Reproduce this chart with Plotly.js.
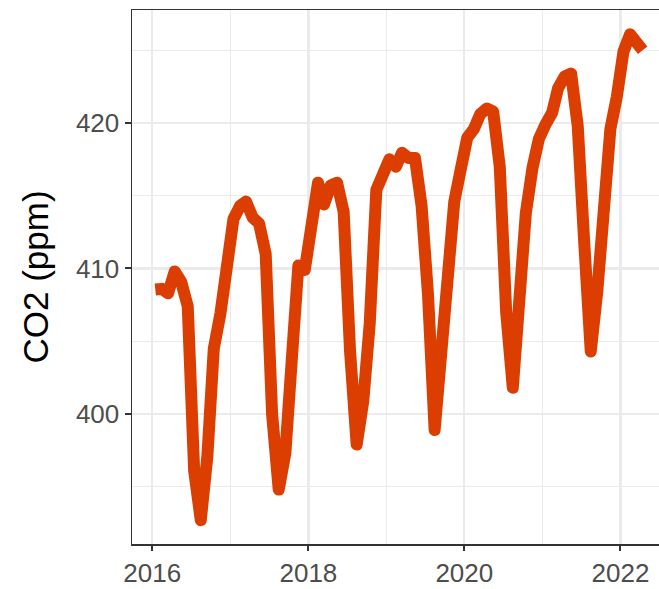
<!DOCTYPE html>
<html>
<head>
<meta charset="utf-8">
<script src="https://cdn.plot.ly/plotly-3.0.1.min.js"></script>
<style>
  html, body { margin: 0; padding: 0; overflow: hidden; background: #fff; }
  #chart { width: 680px; height: 589px; }
  .scatterlayer path.js-line { stroke-linejoin: round !important; }
</style>
</head>
<body>
<div id="chart"></div>
<script>
// Monthly dates (mid-month), Jan 2016 .. Apr 2022
const dates = [
  "2016-01-15","2016-02-15","2016-03-15","2016-04-15","2016-05-15","2016-06-15","2016-07-15","2016-08-15","2016-09-15","2016-10-15","2016-11-15","2016-12-15",
  "2017-01-15","2017-02-15","2017-03-15","2017-04-15","2017-05-15","2017-06-15","2017-07-15","2017-08-15","2017-09-15","2017-10-15","2017-11-15","2017-12-15",
  "2018-01-15","2018-02-15","2018-03-15","2018-04-15","2018-05-15","2018-06-15","2018-07-15","2018-08-15","2018-09-15","2018-10-15","2018-11-15","2018-12-15",
  "2019-01-15","2019-02-15","2019-03-15","2019-04-15","2019-05-15","2019-06-15","2019-07-15","2019-08-15","2019-09-15","2019-10-15","2019-11-15","2019-12-15",
  "2020-01-15","2020-02-15","2020-03-15","2020-04-15","2020-05-15","2020-06-15","2020-07-15","2020-08-15","2020-09-15","2020-10-15","2020-11-15","2020-12-15",
  "2021-01-15","2021-02-15","2021-03-15","2021-04-15","2021-05-15","2021-06-15","2021-07-15","2021-08-15","2021-09-15","2021-10-15","2021-11-15","2021-12-15",
  "2022-01-15","2022-02-15","2022-03-15","2022-04-15"
];

// CO2 concentration (ppm)
const co2 = [
  408.55, 408.6, 408.3, 409.8, 409.1, 407.4, 396.1, 392.7, 397.1, 404.5, 406.9, 410.6,
  413.4, 414.3, 414.6, 413.5, 413.1, 411.0, 400.0, 394.8, 397.3, 403.7, 410.2, 409.9,
  412.6, 415.9, 414.4, 415.7, 415.9, 413.9, 404.3, 397.9, 400.9, 406.2, 415.4, 416.6,
  417.5, 417.0, 417.95, 417.6, 417.6, 414.3, 408.2, 398.9, 404.2, 410.0, 414.6, 416.8,
  419.0, 419.6, 420.6, 421.0, 420.8, 417.0, 407.0, 401.8, 407.9, 413.8, 416.9, 418.9,
  419.9, 420.7, 422.4, 423.2, 423.4, 419.8, 411.9, 404.3, 408.5, 414.0, 419.6, 421.8,
  424.9, 426.1, 425.7, 425.0
];

const xTickVals = ["2016-01-01","2018-01-01","2020-01-01","2022-01-01"];
const xTickText = ["2016","2018","2020","2022"];
const xMinorVals = ["2017-01-01","2019-01-01","2021-01-01"];
const yTickVals = [400, 410, 420];
const yMinorVals = [395, 405, 415, 425];

const lineColor = "rgb(219,62,0)";
const gridMajor = "#EBEBEB";

const trace = {
  x: dates,
  y: co2,
  type: "scatter",
  mode: "lines",
  line: { color: lineColor, width: 12 },
  hoverinfo: "skip"
};

const layout = {
  width: 680,
  height: 589,
  margin: { l: 132, r: 13, t: 10, b: 45, pad: 0 },
  paper_bgcolor: "#ffffff",
  plot_bgcolor: "#ffffff",
  showlegend: false,
  font: { family: "Liberation Sans, Arial, sans-serif", color: "#4D4D4D" },
  xaxis: {
    type: "date",
    range: ["2015-09-28", "2022-08-07"],
    tickmode: "array",
    tickvals: xTickVals,
    ticktext: xTickText,
    tickfont: { size: 26, color: "#4D4D4D" },
    ticks: "outside",
    ticklen: 5,
    tickwidth: 2,
    tickcolor: "#333333",
    showgrid: true,
    gridcolor: gridMajor,
    gridwidth: 2.2,
    minor: { tickmode: "array", tickvals: xMinorVals, showgrid: true, gridcolor: gridMajor, gridwidth: 1.1, ticks: "" },
    showline: true,
    linecolor: "#333333",
    linewidth: 1.5,
    mirror: true,
    zeroline: false,
    fixedrange: true
  },
  yaxis: {
    range: [391.06, 427.77],
    tickmode: "array",
    tickvals: yTickVals,
    ticktext: yTickVals.map(String),
    tickfont: { size: 26, color: "#4D4D4D" },
    ticks: "outside",
    ticklen: 6,
    tickwidth: 2,
    tickcolor: "#333333",
    showgrid: true,
    gridcolor: gridMajor,
    gridwidth: 2.2,
    minor: { tickmode: "array", tickvals: yMinorVals, showgrid: true, gridcolor: gridMajor, gridwidth: 1.1, ticks: "" },
    showline: true,
    linecolor: "#333333",
    linewidth: 1.5,
    mirror: true,
    zeroline: false,
    fixedrange: true,
    title: { text: "CO2 (ppm)", font: { size: 35, color: "#000000" }, standoff: 16 }
  }
};

Plotly.newPlot("chart", [trace], layout, { staticPlot: true, displayModeBar: false });
</script>
</body>
</html>
